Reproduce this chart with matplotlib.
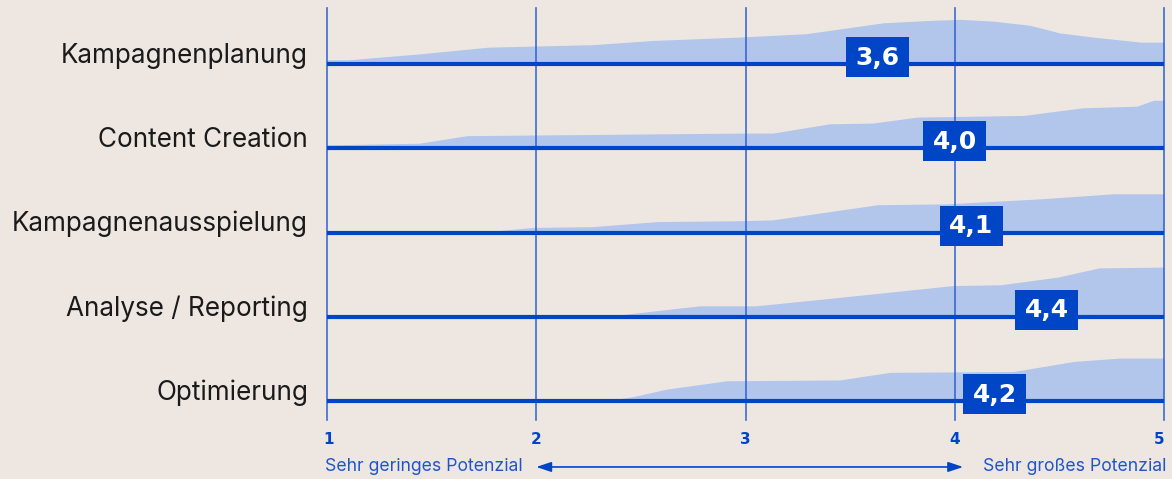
import matplotlib
matplotlib.use("Agg")
import matplotlib.pyplot as plt
from matplotlib.patches import Rectangle
import matplotlib.transforms as mtransforms

# Daten (von oben nach unten)
categories = ["Kampagnenplanung", "Content Creation", "Kampagnenausspielung",
              "Analyse / Reporting", "Optimierung"]
means = [3.63, 4.00, 4.08, 4.44, 4.19]

# Verteilungsprofile: x-Werte (Skala 1-5) und Höhe (Anteil der Zeilenhöhe)
prof_x = [
    [1.0, 1.10, 1.44, 1.77, 2.27, 2.56, 2.97, 3.29, 3.66, 3.90, 4.03, 4.18, 4.36, 4.50, 4.66, 4.89, 5.0],
    [1.0, 1.44, 1.67, 2.97, 3.13, 3.40, 3.61, 3.82, 4.33, 4.61, 4.87, 4.95, 5.0],
    [1.0, 1.72, 1.98, 2.27, 2.58, 2.97, 3.13, 3.63, 3.96, 4.41, 4.76, 5.0],
    [1.0, 2.32, 2.78, 3.05, 3.37, 3.99, 4.22, 4.49, 4.69, 5.0],
    [1.0, 2.32, 2.46, 2.62, 2.91, 3.45, 3.69, 4.28, 4.57, 4.79, 5.0],
]
prof_h = [
    [0.05, 0.05, 0.12, 0.20, 0.23, 0.28, 0.32, 0.36, 0.49, 0.52, 0.53, 0.51, 0.46, 0.37, 0.32, 0.26, 0.26],
    [0.04, 0.06, 0.15, 0.18, 0.18, 0.29, 0.30, 0.37, 0.39, 0.48, 0.50, 0.57, 0.57],
    [0.0, 0.0, 0.06, 0.07, 0.13, 0.14, 0.15, 0.33, 0.34, 0.40, 0.46, 0.46],
    [0.0, 0.0, 0.13, 0.13, 0.21, 0.37, 0.38, 0.47, 0.58, 0.59],
    [0.0, 0.0, 0.05, 0.14, 0.24, 0.25, 0.34, 0.35, 0.47, 0.51, 0.51],
]
ticks = [1, 2, 3, 4, 5]
low_label = "Sehr geringes Potenzial"
high_label = "Sehr großes Potenzial"

BG = "#EEE7E1"
BLUE = "#0045C6"
FILL = "#B2C6EC"
GRID = "#2A5ED0"

fig = plt.figure(figsize=(11.72, 4.79), dpi=100, facecolor=BG)
ax = fig.add_axes([327 / 1172, 59 / 479, 837 / 1172, 412 / 479])
ax.set_facecolor(BG)
ax.set_xlim(1, 5)
ax.set_ylim(-0.2255, 4.665)
ax.axis("off")

n = len(categories)
for i, cat in enumerate(categories):
    y0 = n - 1 - i
    ax.fill_between(prof_x[i], y0, [y0 + h for h in prof_h[i]],
                    color=FILL, lw=0, zorder=1)

for t in ticks:
    ax.axvline(t, color=GRID, lw=1.2, alpha=0.9, zorder=2, clip_on=False)

for i, cat in enumerate(categories):
    y0 = n - 1 - i
    ax.plot([1, 5], [y0, y0], color=BLUE, lw=3, solid_capstyle="butt", zorder=3)
    ax.text(0.91, y0 + 0.1, cat, ha="right", va="center", fontsize=18.8,
            family="Inter", color="#1A1A1A", clip_on=False)
    # Box mit Mittelwert
    bw, bh = 0.301, 0.475
    ax.add_patch(Rectangle((means[i] - bw / 2, y0 + 0.083 - bh / 2), bw, bh,
                           color=BLUE, lw=0, zorder=4))
    lab = f"{means[i]:.1f}".replace(".", ",")
    ax.text(means[i], y0 + 0.075, lab, ha="center", va="center", fontsize=18,
            fontweight="bold", color="white", zorder=5)

trans = mtransforms.blended_transform_factory(ax.transData, ax.transAxes)
for t in ticks:
    ha = "left" if t == ticks[0] else ("right" if t == ticks[-1] else "center")
    xt = t - 0.02 if t == ticks[0] else t
    ax.text(xt, -0.0485, str(t), transform=trans, ha=ha, va="center",
            fontsize=11, fontweight="bold", color=BLUE, clip_on=False)

ax.text(0.99, -0.114, low_label, transform=trans, ha="left", va="center",
        fontsize=12.7, family="Inter", color="#1F55C8", clip_on=False)
ax.text(5.01, -0.114, high_label, transform=trans, ha="right", va="center",
        fontsize=12.7, family="Inter", color="#1F55C8", clip_on=False)
ax.annotate("", xy=(2.0, -0.114), xytext=(4.04, -0.114),
            xycoords=trans, textcoords=trans,
            arrowprops=dict(arrowstyle="<|-|>,head_length=0.9,head_width=0.3",
                            color=BLUE, lw=1.2, shrinkA=0, shrinkB=0))

fig.savefig("out.png", dpi=100, facecolor=BG)
